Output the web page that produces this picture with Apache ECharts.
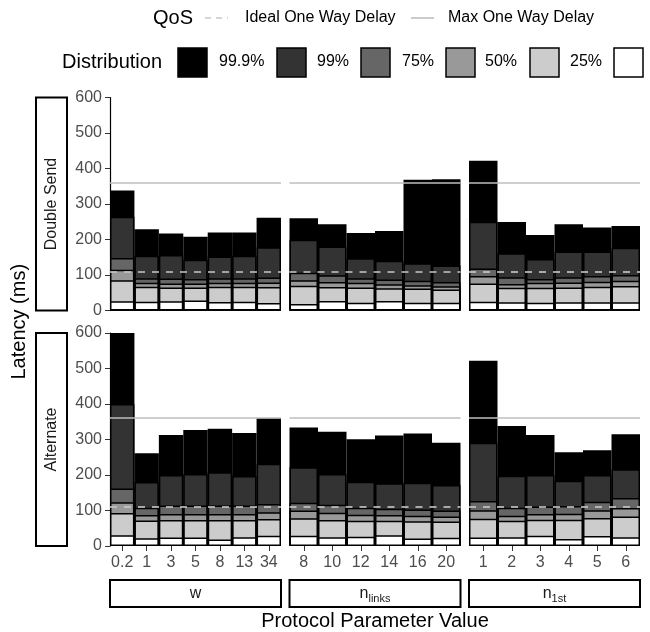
<!DOCTYPE html>
<html><head><meta charset="utf-8">
<script src="https://cdn.jsdelivr.net/npm/echarts@6/dist/echarts.min.js"></script>
<style>html,body{margin:0;padding:0;background:#fff}#c{width:650px;height:632px}</style>
</head><body><div id="c"></div>
<script>
// ---- categories / labels ----
const rowNames = ['Double Send', 'Alternate'];
const catsW = ['0.2', '1', '3', '5', '8', '13', '34'];
const catsLinks = ['8', '10', '12', '14', '16', '20'];
const cats1st = ['1', '2', '3', '4', '5', '6'];
const quantNames = ['99.9%', '99%', '75%', '50%', '25%', ''];
const qosLines = [110, 360]; // Ideal, Max one way delay (ms)
const yTicks = [0, 600, 100];

// ---- Double Send ----
const dsW999 = [338, 229, 217, 208, 220, 220, 261];
const dsW99  = [264, 154, 156, 143, 152, 154, 178];
const dsW75  = [148, 91, 90, 89, 91, 91, 93];
const dsW50  = [115, 78, 76, 76, 78, 78, 79];
const dsW25  = [85, 67, 65, 65, 67, 67, 66];
const dsWmin = [26, 25, 26, 28, 24, 25, 21];

const dsL999 = [260, 243, 218, 224, 368, 370];
const dsL99  = [199, 180, 147, 140, 133, 127];
const dsL75  = [106, 99, 91, 87, 84, 80];
const dsL50  = [85, 80, 78, 74, 71, 68];
const dsL25  = [70, 66, 65, 63, 62, 59];
const dsLmin = [18, 27, 22, 27, 22, 22];

const dsF999 = [422, 249, 213, 243, 234, 238];
const dsF99  = [250, 161, 145, 166, 166, 177];
const dsF75  = [118, 94, 89, 94, 97, 100];
const dsF50  = [97, 75, 78, 79, 81, 84];
const dsF25  = [76, 64, 64, 65, 67, 69];
const dsFmin = [25, 23, 22, 23, 23, 23];

// ---- Alternate ----
const alW999 = [600, 261, 313, 327, 330, 318, 360];
const alW99  = [400, 180, 200, 203, 208, 197, 232];
const alW75  = [162, 108, 114, 114, 114, 114, 118];
const alW50  = [123, 87, 90, 90, 90, 90, 95];
const alW25  = [93, 72, 73, 73, 73, 73, 76];
const alWmin = [30, 22, 24, 24, 18, 25, 29];

const alL999 = [334, 322, 301, 311, 317, 291];
const alL99  = [222, 203, 181, 177, 178, 172];
const alL75  = [122, 116, 108, 105, 103, 100];
const alL50  = [100, 94, 88, 87, 85, 83];
const alL25  = [78, 73, 71, 71, 70, 69];
const alLmin = [29, 25, 26, 30, 21, 23];

const alF999 = [522, 338, 313, 264, 270, 315];
const alF99  = [291, 198, 200, 184, 200, 216];
const alF75  = [127, 108, 111, 113, 125, 135];
const alF50  = [101, 85, 90, 91, 101, 107];
const alF25  = [77, 71, 74, 74, 79, 83];
const alFmin = [24, 25, 29, 20, 28, 25];

const panels = [
  {row: 0, col: 0, cats: catsW,     q: [dsW999, dsW99, dsW75, dsW50, dsW25, dsWmin]},
  {row: 0, col: 1, cats: catsLinks, q: [dsL999, dsL99, dsL75, dsL50, dsL25, dsLmin]},
  {row: 0, col: 2, cats: cats1st,   q: [dsF999, dsF99, dsF75, dsF50, dsF25, dsFmin]},
  {row: 1, col: 0, cats: catsW,     q: [alW999, alW99, alW75, alW50, alW25, alWmin]},
  {row: 1, col: 1, cats: catsLinks, q: [alL999, alL99, alL75, alL50, alL25, alLmin]},
  {row: 1, col: 2, cats: cats1st,   q: [alF999, alF99, alF75, alF50, alF25, alFmin]}
];

// ---- layout / style ----
const F = '"Liberation Sans", Arial, Helvetica, sans-serif';
const fills = ['#000000', '#333333', '#666666', '#999999', '#cccccc', '#ffffff'];
const colLeft = [110, 289.5, 469];
const colWidth = 171;
const rowTop = [97.5, 333];
const rowHeight = 213;

const grids = [], xAxes = [], yAxes = [], series = [];
panels.forEach((p, i) => {
  const isBottom = p.row === 1, isLeft = p.col === 0;
  grids.push({left: colLeft[p.col], top: rowTop[p.row], width: colWidth, height: rowHeight});
  xAxes.push({
    type: 'category', gridIndex: i, data: p.cats, boundaryGap: true,
    axisLine: {show: false},
    axisTick: {show: isBottom, alignWithLabel: true, length: 5, lineStyle: {color: '#333', width: 1}},
    axisLabel: {show: isBottom, color: '#4d4d4d', fontSize: 16, fontFamily: F, margin: 9, interval: 0},
    splitLine: {show: false}
  });
  yAxes.push({
    type: 'value', gridIndex: i, min: yTicks[0], max: yTicks[1], interval: yTicks[2],
    axisLine: {show: isLeft, lineStyle: {color: '#000', width: 1.2}},
    axisTick: {show: isLeft, length: 5, lineStyle: {color: '#333', width: 1}},
    axisLabel: {show: isLeft, color: '#4d4d4d', fontSize: 16, fontFamily: F, margin: 8},
    splitLine: {show: false}
  });
  p.q.forEach((arr, k) => {
    const s = {
      type: 'bar', name: quantNames[k], xAxisIndex: i, yAxisIndex: i, data: arr,
      barGap: '-100%', barCategoryGap: '0%', silent: true, animation: false,
      itemStyle: {color: fills[k], borderColor: '#000', borderWidth: 1.5}
    };
    if (k === p.q.length - 1) {
      s.markLine = {
        silent: true, symbol: ['none', 'none'], label: {show: false}, animation: false,
        data: [
          {yAxis: qosLines[1], lineStyle: {color: '#bebebe', width: 1.6, type: 'solid'}},
          {yAxis: qosLines[0], lineStyle: {color: '#c8c8c8', width: 1.6, type: [7, 7]}}
        ]
      };
    }
    series.push(s);
  });
});

// ---- legend, strips, titles (graphic) ----
const g = [];
function txt(x, y, text, size, opts) {
  return Object.assign({type: 'text', x: x, y: y, silent: true,
    style: Object.assign({text: text, fontSize: size, fontFamily: F, fill: '#000', align: 'left', verticalAlign: 'middle'}, (opts && opts.style) || {})},
    (opts && opts.el) || {});
}
// QoS legend row
g.push(txt(153, 18, 'QoS', 20));
g.push({type: 'line', silent: true, shape: {x1: 205, y1: 18, x2: 228, y2: 18}, style: {stroke: '#c8c8c8', lineWidth: 1.6, lineDash: [6, 5]}});
g.push(txt(245, 18, 'Ideal One Way Delay', 16));
g.push({type: 'line', silent: true, shape: {x1: 411, y1: 18, x2: 434, y2: 18}, style: {stroke: '#bebebe', lineWidth: 1.6}});
g.push(txt(448, 18, 'Max One Way Delay', 16));
// Distribution legend row
g.push(txt(62, 62, 'Distribution', 20));
const boxX = [178, 277, 361, 446, 530, 614];
const labX = [219, 317, 402, 485, 570];
boxX.forEach((x, k) => {
  g.push({type: 'rect', silent: true, shape: {x: x, y: 48, width: 29, height: 29}, style: {fill: fills[k], stroke: '#000', lineWidth: 1.5}});
  if (k < labX.length) g.push(txt(labX[k], 62, quantNames[k], 16));
});
// left strips
rowTop.forEach((t, r) => {
  g.push({type: 'rect', silent: true, shape: {x: 36, y: t, width: 31, height: rowHeight}, style: {fill: '#fff', stroke: '#000', lineWidth: 2}});
  g.push(txt(51.5, t + rowHeight / 2, rowNames[r], 16, {style: {align: 'center', fill: '#1a1a1a'}, el: {rotation: Math.PI / 2}}));
});
// bottom strips
const stripTexts = [
  {text: 'w', rich: null},
  {text: '{n|n}{s|links}', rich: true},
  {text: '{n|n}{s|1st}', rich: true}
];
colLeft.forEach((l, c) => {
  g.push({type: 'rect', silent: true, shape: {x: l, y: 580, width: colWidth, height: 27}, style: {fill: '#fff', stroke: '#000', lineWidth: 2}});
  const st = {text: stripTexts[c].text, fontSize: 16, fontFamily: F, fill: '#1a1a1a', align: 'center', verticalAlign: 'middle'};
  if (stripTexts[c].rich) {
    st.rich = {
      n: {fontSize: 16, fontFamily: F, fill: '#1a1a1a', lineHeight: 22, verticalAlign: 'middle'},
      s: {fontSize: 11, fontFamily: F, fill: '#1a1a1a', lineHeight: 11, verticalAlign: 'bottom'}
    };
  }
  g.push({type: 'text', silent: true, x: l + colWidth / 2, y: 593.5, style: st});
});
// axis titles
g.push(txt(19, (rowTop[0] + rowTop[1] + rowHeight) / 2, 'Latency (ms)', 20, {style: {align: 'center'}, el: {rotation: Math.PI / 2}}));
g.push(txt(375, 621, 'Protocol Parameter Value', 20, {style: {align: 'center'}}));

const chart = echarts.init(document.getElementById('c'), null, {renderer: 'canvas'});
chart.setOption({
  animation: false,
  backgroundColor: '#ffffff',
  grid: grids, xAxis: xAxes, yAxis: yAxes, series: series,
  graphic: {elements: g}
});
</script></body></html>
